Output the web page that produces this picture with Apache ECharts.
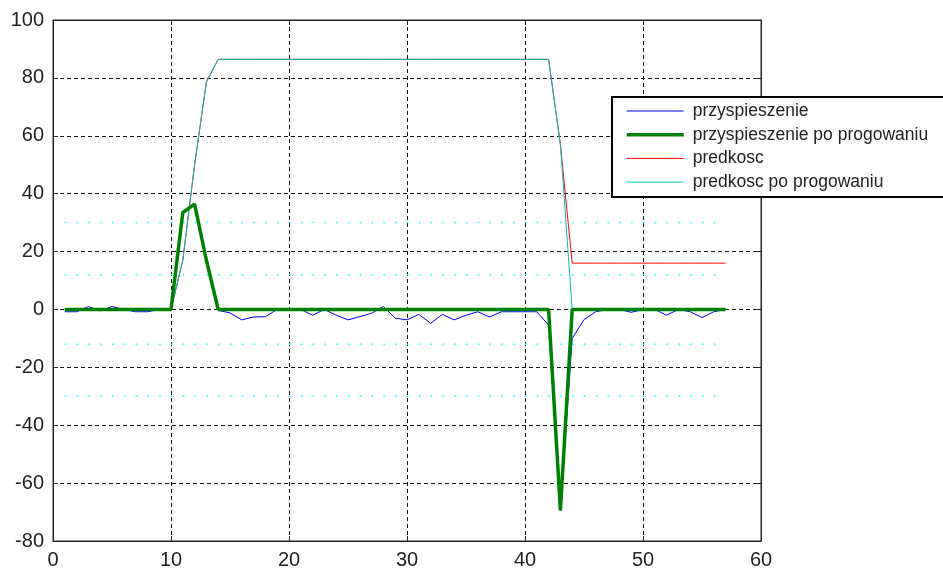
<!DOCTYPE html>
<html>
<head>
<meta charset="utf-8">
<script src="https://cdn.jsdelivr.net/npm/echarts@6/dist/echarts.min.js"></script>
<style>html,body{margin:0;padding:0;background:#fff;}#c{width:943px;height:573px;}</style>
</head>
<body>
<div id="c"></div>
<script>
// sample index (x)
const samples = [1,2,3,4,5,6,7,8,9,10,11,12,13,14,15,16,17,18,19,20,21,22,23,24,25,26,27,28,29,30,31,32,33,34,35,36,37,38,39,40,41,42,43,44,45,46,47,48,49,50,51,52,53,54,55,56,57];
// przyspieszenie (raw acceleration)
const accel = [-0.8,-0.8,1,-0.5,1,0,-0.8,-0.8,0,0,33.5,36.4,17,-0.3,-1.2,-3.6,-2.6,-2.5,0,0,0,-2,0,-2,-3.6,-2.5,-1.3,1,-3,-3.6,-1.7,-4.8,-1.7,-3.6,-2,-0.8,-2.6,-0.8,-0.8,-0.8,-0.8,-5.4,-69.4,-10,-3.5,-0.8,0,0,-1,0,0,-2,0,-0.8,-2.8,-0.8,0];
// przyspieszenie po progowaniu (thresholded acceleration)
const accelThr = [0,0,0,0,0,0,0,0,0,0,33.5,36.4,17,0,0,0,0,0,0,0,0,0,0,0,0,0,0,0,0,0,0,0,0,0,0,0,0,0,0,0,0,0,-69.4,0,0,0,0,0,0,0,0,0,0,0,0,0,0];
// predkosc (velocity)
const vel = [0,0,0,0,0,0,0,0,0,0,17,50,78.6,86.4,86.4,86.4,86.4,86.4,86.4,86.4,86.4,86.4,86.4,86.4,86.4,86.4,86.4,86.4,86.4,86.4,86.4,86.4,86.4,86.4,86.4,86.4,86.4,86.4,86.4,86.4,86.4,86.4,57,16,16,16,16,16,16,16,16,16,16,16,16,16,16];
// predkosc po progowaniu (thresholded velocity)
const velThr = [0,0,0,0,0,0,0,0,0,0,17,50,78.6,86.4,86.4,86.4,86.4,86.4,86.4,86.4,86.4,86.4,86.4,86.4,86.4,86.4,86.4,86.4,86.4,86.4,86.4,86.4,86.4,86.4,86.4,86.4,86.4,86.4,86.4,86.4,86.4,86.4,57,0,0,0,0,0,0,0,0,0,0,0,0,0,0];
// threshold levels (dotted cyan lines) and their extent
const thresholds = [30, 12, -12, -30];
const thrStart = 1, thrEnd = 57;
const names = ['przyspieszenie','przyspieszenie po progowaniu','predkosc','predkosc po progowaniu'];
const colors = ['#0000ff', '#008000', '#ff0000', '#00bfbf'];
const widths = [1, 3.5, 1, 1];
const xTicks = [0,10,20,30,40,50,60];
const yTicks = [-80,-60,-40,-20,0,20,40,60,80,100];

const FONT = '"Liberation Sans", Arial, sans-serif';
const pair = (ys) => samples.map((x, i) => [x, ys[i]]);

const chart = echarts.init(document.getElementById('c'), null, {renderer: 'canvas'});
const gridDash = {color: '#111', width: 1, type: [4, 3]};
const series = [];
thresholds.forEach((t) => {
  series.push({
    type: 'line', name: 'thr' + t, data: [[thrStart, t], [thrEnd, t]],
    symbol: 'none', silent: true, z: 1,
    lineStyle: {color: '#00ffff', width: 1.5, type: [1.5, 10.3]}
  });
});
const mk = (k, data, z) => ({
  type: 'line', name: names[k], data: pair(data), symbol: 'none', z: z,
  color: colors[k], itemStyle: {color: colors[k]},
  lineStyle: {color: colors[k], width: widths[k]}
});
series.push(mk(0, accel, 2), mk(2, vel, 3), mk(3, velThr, 4), mk(1, accelThr, 5));

const axisLbl = {color: '#222', fontSize: 20, fontFamily: FONT};
chart.setOption({
  animation: false,
  backgroundColor: '#fff',
  grid: {left: 53, right: 182, top: 20, bottom: 32, show: true, borderColor: '#222', borderWidth: 1},
  xAxis: [
    {type: 'value', min: xTicks[0], max: xTicks[xTicks.length - 1], interval: 10, position: 'bottom',
     axisLine: {show: true, onZero: false, lineStyle: {color: '#222'}},
     axisTick: {show: true, inside: true, length: 5, lineStyle: {color: '#222'}},
     axisLabel: Object.assign({margin: 9}, axisLbl),
     splitLine: {show: true, lineStyle: gridDash}},
    {type: 'value', min: xTicks[0], max: xTicks[xTicks.length - 1], interval: 10, position: 'top',
     axisLine: {show: true, onZero: false, lineStyle: {color: '#222'}},
     axisTick: {show: true, inside: true, length: 5, lineStyle: {color: '#222'}},
     axisLabel: {show: false}, splitLine: {show: false}}
  ],
  yAxis: [
    {type: 'value', min: yTicks[0], max: yTicks[yTicks.length - 1], interval: 20, position: 'left',
     axisLine: {show: true, onZero: false, lineStyle: {color: '#222'}},
     axisTick: {show: true, inside: true, length: 5, lineStyle: {color: '#222'}},
     axisLabel: Object.assign({margin: 9}, axisLbl),
     splitLine: {show: true, lineStyle: gridDash}},
    {type: 'value', min: yTicks[0], max: yTicks[yTicks.length - 1], interval: 20, position: 'right',
     axisLine: {show: true, onZero: false, lineStyle: {color: '#222'}},
     axisTick: {show: true, inside: true, length: 5, lineStyle: {color: '#222'}},
     axisLabel: {show: false}, splitLine: {show: false}}
  ],
  legend: {
    data: names.map((n, k) => ({name: n, itemStyle: {opacity: 0},
      lineStyle: {color: colors[k], width: widths[k]}})),
    orient: 'vertical', left: 612, top: 97,
    backgroundColor: '#fff', borderColor: '#000', borderWidth: 2,
    padding: [4, 16, 5, 13], itemWidth: 57, itemHeight: 20, itemGap: 3.7,
    itemStyle: {opacity: 0},
    textStyle: {fontSize: 17.5, color: '#222', fontFamily: FONT, padding: [0, 0, 0, 4], lineHeight: 20}
  },
  series: series
});
</script>
</body>
</html>
